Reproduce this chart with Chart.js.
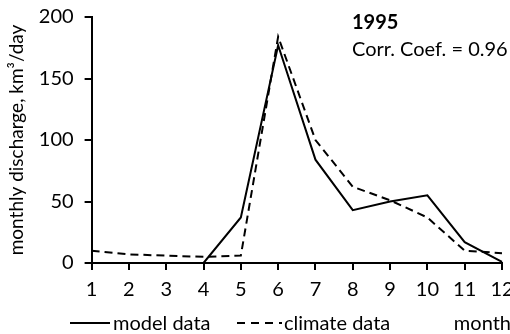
<!DOCTYPE html>
<html>
<head>
<meta charset="utf-8">
<script src="https://cdn.jsdelivr.net/npm/chart.js@4/dist/chart.umd.min.js"></script>
<style>
  html, body { margin: 0; padding: 0; background: #fff; }
  #wrap { width: 510px; height: 334px; }
</style>
</head>
<body>
<div id="wrap"><canvas id="lineChart" width="510" height="334"></canvas></div>
<script>
// monthly discharge, km3/day (1995)
const months = ['1', '2', '3', '4', '5', '6', '7', '8', '9', '10', '11', '12'];
const modelData = [null, null, null, 0, 37, 177, 84, 43, 50, 55, 17, 1];
const climateData = [10, 7, 6, 5, 6, 184, 100, 62, 51, 37, 10, 8];
const yTicks = [0, 50, 100, 150, 200];

const FONT = 'Lato';

// draws the year note, the legend row and the "month" title
const notes = {
  id: 'notes',
  afterDraw(chart) {
    const ctx = chart.ctx;
    ctx.save();
    ctx.fillStyle = '#000';
    ctx.textBaseline = 'alphabetic';
    ctx.textAlign = 'left';
    ctx.font = 'bold 20px ' + FONT;
    ctx.fillText('1995', 352, 29);
    ctx.font = '20px ' + FONT;
    ctx.fillText('Corr. Coef. = 0.96', 352, 56);

    // legend
    const ly = 323;
    ctx.strokeStyle = '#000';
    ctx.lineWidth = 2;
    ctx.beginPath();
    ctx.moveTo(70, ly); ctx.lineTo(110, ly);
    ctx.stroke();
    ctx.setLineDash([8, 6]);
    ctx.beginPath();
    ctx.moveTo(237, ly); ctx.lineTo(282, ly);
    ctx.stroke();
    ctx.setLineDash([]);
    ctx.fillText('model data', 113, 330);
    ctx.fillText('climate data', 284, 330);
    ctx.textAlign = 'right';
    ctx.fillText('month', 511, 330);
    ctx.restore();
  }
};

new Chart(document.getElementById('lineChart').getContext('2d'), {
  type: 'line',
  data: {
    labels: months,
    datasets: [{
      label: 'model data',
      data: modelData,
      borderColor: '#000',
      borderWidth: 2,
      pointRadius: 0,
      tension: 0,
      fill: false
    }, {
      label: 'climate data',
      data: climateData,
      borderColor: '#000',
      borderWidth: 2,
      borderDash: [8, 5],
      pointRadius: 0,
      tension: 0,
      fill: false
    }]
  },
  options: {
    responsive: false,
    animation: false,
    events: [],
    layout: { padding: { top: 17, bottom: 24, left: 0, right: 8 } },
    plugins: {
      legend: { display: false },
      tooltip: { enabled: false }
    },
    scales: {
      x: {
        type: 'category',
        offset: false,
        afterFit(scale) { scale.paddingRight = 0; scale.paddingLeft = 0; },
        grid: { drawOnChartArea: false, drawTicks: true, tickLength: 7, color: '#000', lineWidth: 2, offset: false },
        border: { color: '#000', width: 2 },
        ticks: { color: '#000', font: { family: FONT, size: 20 }, padding: 8, maxRotation: 0, autoSkip: false }
      },
      y: {
        min: 0,
        max: 200,
        afterBuildTicks(scale) { scale.ticks = yTicks.map(v => ({ value: v })); },
        afterFit(scale) { scale.paddingTop = 0; scale.paddingBottom = 0; },
        grid: { drawOnChartArea: false, drawTicks: true, tickLength: 7, color: '#000', lineWidth: 2 },
        border: { color: '#000', width: 2 },
        ticks: { color: '#000', font: { family: FONT, size: 20 }, padding: 11 },
        title: {
          display: true,
          text: 'monthly discharge, km³/day',
          color: '#000',
          font: { family: FONT, size: 19 },
          padding: { top: 5, bottom: 0 }
        }
      }
    }
  },
  plugins: [notes]
});
</script>
</body>
</html>
